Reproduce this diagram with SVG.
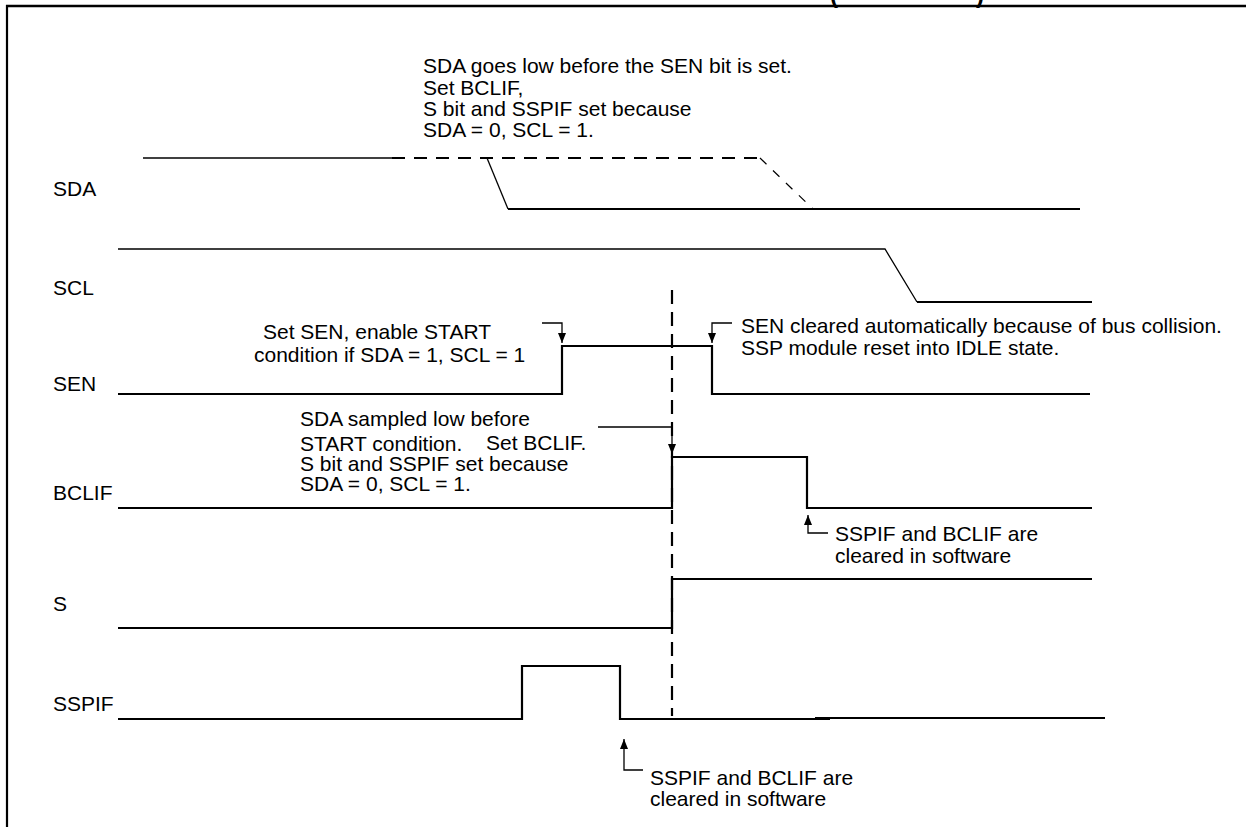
<svg xmlns="http://www.w3.org/2000/svg" width="1246" height="827" viewBox="0 0 1246 827">
<style>
text{font-family:"Liberation Sans",Arial,Helvetica,sans-serif;font-size:21px;fill:#000}
.w{fill:none;stroke:#000;stroke-width:2.2;stroke-linejoin:miter}
.t{fill:none;stroke:#000;stroke-width:1.3}
.d{fill:none;stroke:#000;stroke-width:2;stroke-dasharray:13 9}
.ds{fill:none;stroke:#000;stroke-width:1.2;stroke-dasharray:9 9}
.vd{fill:none;stroke:#000;stroke-width:2.2;stroke-dasharray:14 8}
.a{fill:none;stroke:#000;stroke-width:1.3;marker-end:url(#ah)}
.p{font-weight:bold;font-size:24px}
</style>
<defs>
<marker id="ah" viewBox="0 0 10 8" refX="10" refY="4" markerWidth="10" markerHeight="8" markerUnits="userSpaceOnUse" orient="auto">
<path d="M0,0 L10,4 L0,8 z" fill="#000"/>
</marker>
</defs>
<rect width="1246" height="827" fill="#fff"/>
<g id="frame">
<line x1="6" y1="6" x2="1246" y2="6" stroke="#000" stroke-width="2.6"/>
<line x1="7" y1="5" x2="7" y2="827" stroke="#000" stroke-width="2.2"/>
<text class="p" x="830" y="3">(</text>
<text class="p" x="976" y="3">)</text>
</g>
<g id="sda">
<text x="53" y="196">SDA</text>
<path class="t" d="M143,158 H392"/>
<path class="d" d="M392,158 H760"/>
<path class="ds" d="M760,158 L813,209"/>
<path class="t" d="M487,158 L508,209"/>
<path class="w" d="M508,209 H1080"/>
</g>
<g id="scl">
<text x="53" y="295">SCL</text>
<path class="t" d="M118,249 H885 L917,302"/>
<path class="w" d="M917,302 H1092"/>
</g>
<g id="sen">
<text x="53" y="391">SEN</text>
<path class="w" d="M118,394 H562 V346 H712 V394 H1090"/>
</g>
<g id="bclif">
<text x="53" y="500">BCLIF</text>
<path class="w" d="M118,508 H672 V457 H807 V508 H1092"/>
</g>
<g id="s">
<text x="53" y="611">S</text>
<path class="w" d="M118,628 H672 V579 H1092"/>
</g>
<g id="sspif">
<text x="53" y="711">SSPIF</text>
<path class="w" d="M118,719 H522 V666 H620 V719 H830"/>
<path class="w" d="M815,718 H1105"/>
</g>
<g id="collision-marker">
<path class="vd" d="M672,290 V716"/>
</g>
<g id="note-sda">
<text x="423" y="73">SDA goes low before the SEN bit is set.</text>
<text x="423" y="95">Set BCLIF,</text>
<text x="423" y="116">S bit and SSPIF set because</text>
<text x="423" y="137">SDA = 0, SCL = 1.</text>
</g>
<g id="note-sen-set">
<text x="263" y="339">Set SEN, enable START</text>
<text x="254" y="362">condition if SDA = 1, SCL = 1</text>
</g>
<g id="note-sen-clear">
<text x="741" y="333">SEN cleared automatically because of bus collision.</text>
<text x="741" y="355">SSP module reset into IDLE state.</text>
</g>
<g id="note-bclif">
<text x="300" y="426">SDA sampled low before</text>
<text x="300" y="451">START condition.</text>
<text x="486" y="450">Set BCLIF.</text>
<text x="300" y="471">S bit and SSPIF set because</text>
<text x="300" y="491">SDA = 0, SCL = 1.</text>
</g>
<g id="note-clear1">
<text x="835" y="541">SSPIF and BCLIF are</text>
<text x="835" y="563">cleared in software</text>
</g>
<g id="note-clear2">
<text x="650" y="785">SSPIF and BCLIF are</text>
<text x="650" y="806">cleared in software</text>
</g>
<g id="connectors">
<path class="a" d="M542,323 H562 V343"/>
<path class="a" d="M732,323 H712 V343"/>
<path class="a" d="M598,427 H672 V454"/>
<path class="a" d="M828,533 H808 V515"/>
<path class="a" d="M643,770 H624 V739"/>
</g>
</svg>
